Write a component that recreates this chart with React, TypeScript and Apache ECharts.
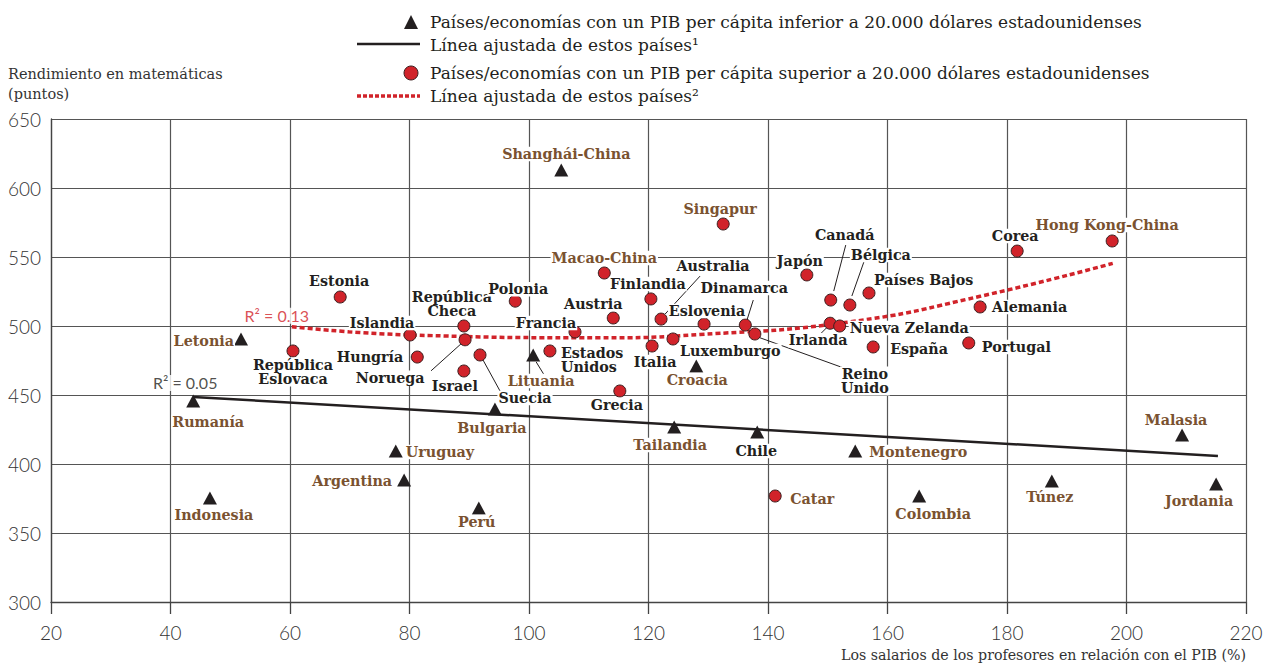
import React, { useEffect, useRef } from "react";
import * as echarts from "echarts";

// ---------- data ----------
const lowNames = ["Shanghái-China", "Letonia", "Rumanía", "Bulgaria", "Lituania", "Uruguay", "Argentina", "Indonesia", "Perú", "Croacia", "Tailandia", "Chile", "Montenegro", "Colombia", "Túnez", "Malasia", "Jordania"];
const lowSalary = [105.4, 51.8, 43.8, 94.3, 100.7, 77.7, 79.1, 46.6, 91.6, 128, 124.3, 138.2, 154.6, 165.3, 187.5, 209.3, 215];
const lowMath = [613, 490.6, 445.7, 439.9, 479, 409.4, 388.4, 375.4, 368.1, 471, 426.8, 423.2, 409.4, 376.8, 387.7, 421, 385.5];

const highNames = ["Estonia", "República\nEslovaca", "Islandia", "Hungría", "República\nCheca", "Noruega", "Israel", "Suecia", "Polonia", "Francia", "Estados\nUnidos", "Austria", "Macao-China", "Finlandia", "Australia", "Italia", "Luxemburgo", "Eslovenia", "Dinamarca", "Reino\nUnido", "Japón", "Canadá", "Bélgica", "Irlanda", "Nueva Zelanda", "Países Bajos", "España", "Singapur", "Corea", "Hong Kong-China", "Alemania", "Portugal", "Grecia", "Catar"];
const highSalary = [68.4, 60.5, 80.1, 81.3, 89.1, 89.3, 89.1, 91.8, 97.7, 107.7, 103.5, 114.1, 112.6, 120.4, 122.1, 120.6, 124.1, 129.3, 136.2, 137.8, 146.5, 150.5, 153.7, 150.4, 152, 156.9, 157.6, 132.5, 181.7, 197.6, 175.5, 173.6, 115.2, 141.2];
const highMath = [521, 481.9, 493.5, 477.5, 500, 490, 467.4, 479, 518, 495.7, 481.9, 505.8, 538.4, 519.6, 505, 485.5, 490.6, 501.4, 500.7, 494.2, 537, 518.8, 515.2, 502, 500, 523.9, 484.8, 573.9, 554.3, 561.6, 513.8, 487.7, 452.9, 376.8];

const partners = ["Shanghái-China", "Letonia", "Rumanía", "Bulgaria", "Lituania", "Uruguay", "Argentina", "Indonesia", "Perú", "Croacia", "Tailandia", "Montenegro", "Colombia", "Túnez", "Malasia", "Jordania", "Macao-China", "Singapur", "Hong Kong-China", "Catar"];

// fitted lines
const lowFitX = [43.8, 215.3];
const lowFitY = [448.6, 405.8];
const highFitX = [60.3, 80.1, 111.9, 128.6, 153.7, 175.5, 197.7];
const highFitY = [499.5, 493.5, 491.5, 493.8, 503, 521.5, 545.4];
const lowR2 = "R² = 0.05";
const highR2 = "R² = 0.13";

const xTicks = { min: 20, max: 220, step: 20 };
const yTicks = { min: 300, max: 650, step: 50 };

// ---------- label placement (pixel offsets, styles) ----------
// [dx, dy, align] ; align: c = center at dx, l = left edge at dx, r = right edge at dx
const labelPos: Record<string, [number, number, string]> = {
  "Shanghái-China": [5, -16, "c"], "Letonia": [-6, 2, "r"], "Rumanía": [15, 21, "c"], "Bulgaria": [-3, 19, "c"],
  "Lituania": [8, 26, "c"], "Uruguay": [9, 1, "l"], "Argentina": [-11, 1, "r"], "Indonesia": [4, 17, "c"],
  "Perú": [-2, 14, "c"], "Croacia": [1, 14, "c"], "Tailandia": [-4, 18, "c"], "Chile": [-1, 19, "c"],
  "Montenegro": [13, 1, "l"], "Colombia": [14, 18, "c"], "Túnez": [-2, 16, "c"], "Malasia": [-6, -15, "c"],
  "Jordania": [-17, 17, "c"],
  "Estonia": [-1, -16, "c"], "República\nEslovaca": [0, 21, "c"], "Islandia": [-28, -12, "c"], "Hungría": [-13, 0, "r"],
  "República\nCheca": [-12, -22, "c"], "Noruega": [-75, 38, "c"], "Israel": [-9, 15, "c"], "Suecia": [45, 43, "c"],
  "Polonia": [3, -12, "c"], "Francia": [-29, -9, "c"], "Estados\nUnidos": [10, 9, "l"], "Austria": [-20, -14, "c"],
  "Macao-China": [0, -15, "c"], "Finlandia": [-3, -15, "c"], "Australia": [52, -53, "c"], "Italia": [3, 16, "c"],
  "Luxemburgo": [6, 12, "l"], "Eslovenia": [3, -13, "c"], "Dinamarca": [-1, -37, "c"], "Reino\nUnido": [110, 47, "c"],
  "Japón": [-7, -14, "c"], "Canadá": [14, -65, "c"], "Bélgica": [31, -50, "c"], "Irlanda": [-12, 17, "c"],
  "Nueva Zelanda": [9, 2, "l"], "Países Bajos": [4, -13, "l"], "España": [16, 2, "l"], "Singapur": [-3, -15, "c"],
  "Corea": [-2, -15, "c"], "Hong Kong-China": [-5, -16, "c"], "Alemania": [11, 0, "l"], "Portugal": [12, 4, "l"],
  "Grecia": [-3, 14, "c"], "Catar": [14, 3, "l"],
};

// leader lines: [startDx, startDy, endDx, endDy]
const leaders: Record<string, [number, number, number, number]> = {
  "Australia": [4, -5, 39, -43],
  "Dinamarca": [2, -6, 8, -25],
  "Canadá": [3, -9, 15, -55],
  "Bélgica": [2, -9, 14, -43],
  "Reino\nUnido": [3, 3, 100, 38],
  "Irlanda": [-3, 4, -9, 10],
  "Noruega": [-4, 4, -34, 31],
  "Suecia": [3, 5, 20, 36],
  "Lituania": [3, 7, 11, 20],
};

const INK = "#231f20";
const BROWN = "#7a5230";
const RED = "#d1232a";
const SERIF = "DejaVu Serif";

function makeItems(names: string[], xs: number[], ys: number[]) {
  return names.map((n, i) => {
    const p = labelPos[n] || [0, -15, "c"];
    const align = p[2] === "l" ? "left" : p[2] === "r" ? "right" : "center";
    return {
      name: n,
      value: [xs[i], ys[i]],
      label: {
        show: true,
        position: "inside",
        formatter: n,
        offset: [p[0], p[1]],
        align,
        verticalAlign: "middle",
        color: partners.includes(n) ? BROWN : INK,
        fontFamily: SERIF,
        fontWeight: "bold",
        fontSize: 14.3,
        lineHeight: 14.5,
        backgroundColor: "#fff",
        padding: [0, 1],
      },
    };
  });
}

export default function App() {
  const ref = useRef<HTMLDivElement>(null);
  useEffect(() => {
    if (!ref.current) return;
    const chart = echarts.init(ref.current, undefined, { renderer: "svg" });

    const allNames = [...lowNames, ...highNames];
    const allX = [...lowSalary, ...highSalary];
    const allY = [...lowMath, ...highMath];
    const leaderNames = Object.keys(leaders);
    const leaderData = leaderNames.map((n) => {
      const i = allNames.indexOf(n);
      return { name: n, value: [allX[i], allY[i]] };
    });

    const option: any = {
      animation: false,
      backgroundColor: "#fff",
      grid: { left: 51, right: 23, top: 119, bottom: 62 },
      xAxis: {
        type: "value",
        min: xTicks.min,
        max: xTicks.max,
        interval: xTicks.step,
        axisLine: { show: true, lineStyle: { color: "#444", width: 1.3 } },
        axisTick: { show: true, length: 12, inside: false, lineStyle: { color: "#444", width: 1.3 } },
        axisLabel: { margin: 21, fontSize: 19, color: "#333", fontFamily: "Lato", fontWeight: 300 },
        splitLine: { show: true, lineStyle: { color: "#555", width: 1.2 } },
      },
      yAxis: {
        type: "value",
        min: yTicks.min,
        max: yTicks.max,
        interval: yTicks.step,
        axisLine: { show: true, lineStyle: { color: "#444", width: 1.3 } },
        axisTick: { show: false },
        axisLabel: { margin: 10, fontSize: 19, color: "#333", fontFamily: "Lato", fontWeight: 300 },
        splitLine: { show: true, lineStyle: { color: "#555", width: 1.2 } },
      },
      series: [
        {
          type: "custom",
          z: 1,
          silent: true,
          data: leaderData,
          renderItem: (params: any, api: any) => {
            const n = leaderNames[params.dataIndex];
            const o = leaders[n];
            const c = api.coord([api.value(0), api.value(1)]);
            return {
              type: "line",
              shape: { x1: c[0] + o[0], y1: c[1] + o[1], x2: c[0] + o[2], y2: c[1] + o[3] },
              style: { stroke: INK, lineWidth: 1 },
            };
          },
        },
        {
          type: "line",
          z: 2,
          data: lowFitX.map((x, i) => [x, lowFitY[i]]),
          showSymbol: false,
          lineStyle: { color: INK, width: 2.5 },
          silent: true,
        },
        {
          type: "line",
          z: 2,
          smooth: true,
          data: highFitX.map((x, i) => [x, highFitY[i]]),
          showSymbol: false,
          lineStyle: { color: RED, width: 3.5, type: [5, 3] },
          silent: true,
        },
        {
          type: "scatter",
          z: 3,
          symbolSize: 0,
          data: [
            { value: [lowFitX[0], lowFitY[0]], label: { formatter: lowR2, color: INK, offset: [-8, -14] } },
            { value: [highFitX[0], highFitY[0]], label: { formatter: highR2, color: RED, offset: [-15, -11] } },
          ],
          label: { show: true, position: "inside", fontFamily: "Lato", fontSize: 16, backgroundColor: "#fff", padding: [0, 1] },
        },
        {
          type: "scatter",
          z: 4,
          symbol: "triangle",
          symbolSize: [14, 13],
          itemStyle: { color: INK, opacity: 1 },
          data: makeItems(lowNames, lowSalary, lowMath),
        },
        {
          type: "scatter",
          z: 4,
          symbol: "circle",
          symbolSize: 12,
          itemStyle: { color: RED, borderColor: "#3a1f1f", borderWidth: 1, opacity: 1 },
          data: makeItems(highNames, highSalary, highMath),
        },
      ],
      graphic: [
        { type: "polygon", shape: { points: [[404, 29], [411, 15], [418, 29]] }, style: { fill: INK } },
        { type: "text", x: 430, y: 22, style: { text: "Países/economías con un PIB per cápita inferior a 20.000 dólares estadounidenses", fill: INK, font: `17px '${SERIF}'`, verticalAlign: "middle" } },
        { type: "line", shape: { x1: 357, y1: 44, x2: 420, y2: 44 }, style: { stroke: INK, lineWidth: 2.5 } },
        { type: "text", x: 430, y: 45, style: { text: "Línea ajustada de estos países¹", fill: INK, font: `17px '${SERIF}'`, verticalAlign: "middle" } },
        { type: "circle", shape: { cx: 411, cy: 73, r: 7 }, style: { fill: RED, stroke: "#3a1f1f", lineWidth: 1 } },
        { type: "text", x: 430, y: 73, style: { text: "Países/economías con un PIB per cápita superior a 20.000 dólares estadounidenses", fill: INK, font: `17px '${SERIF}'`, verticalAlign: "middle" } },
        { type: "line", shape: { x1: 357, y1: 96, x2: 420, y2: 96 }, style: { stroke: RED, lineWidth: 3.5, lineDash: [4, 2] } },
        { type: "text", x: 430, y: 96, style: { text: "Línea ajustada de estos países²", fill: INK, font: `17px '${SERIF}'`, verticalAlign: "middle" } },
        { type: "text", x: 8, y: 74, style: { text: "Rendimiento en matemáticas", fill: "#333", font: `14.5px '${SERIF}'`, verticalAlign: "middle" } },
        { type: "text", x: 8, y: 94, style: { text: "(puntos)", fill: "#333", font: `14.5px '${SERIF}'`, verticalAlign: "middle" } },
        { type: "text", x: 1246, y: 655, style: { text: "Los salarios de los profesores en relación con el PIB (%)", fill: "#333", font: `14.2px '${SERIF}'`, align: "right", verticalAlign: "middle" } },
      ],
    };
    chart.setOption(option);
    return () => chart.dispose();
  }, []);
  return <div ref={ref} style={{ position: "fixed", left: 0, top: 0, width: 1269, height: 664 }} />;
}
